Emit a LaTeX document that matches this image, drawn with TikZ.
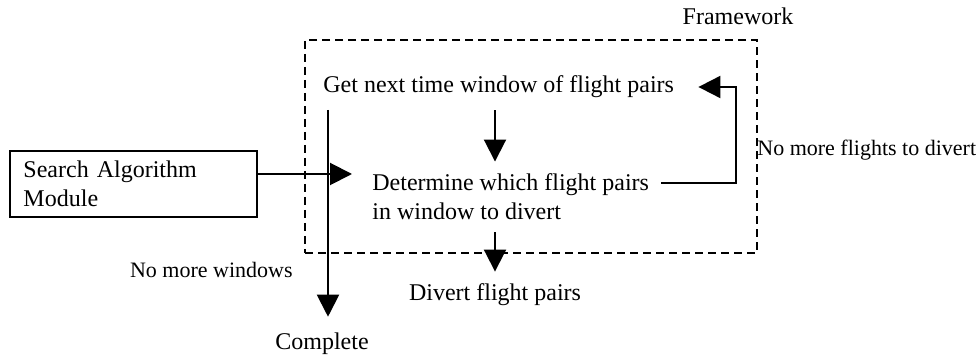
\documentclass[tikz,border=0pt]{standalone}
\usepackage{fontspec}
\setmainfont{Liberation Serif}
\usetikzlibrary{arrows.meta}

\tikzset{
  txt/.style={inner sep=6pt, align=left, font=\fontsize{12}{14.5}\selectfont},
  lbl/.style={inner sep=0pt, font=\fontsize{11}{13}\selectfont},
  arr/.style={line width=1pt, -{Triangle[length=11pt,width=11pt]}},
  ln/.style={line width=1pt}
}

\begin{document}
\begin{tikzpicture}[x=0.5pt, y=-0.5pt]
  \useasboundingbox (0,0) rectangle (976,363);

  % Nodes
  \node [draw, dashed, line width=1pt, dash pattern=on 4pt off 2.5pt,
         minimum width=226pt, minimum height=106.5pt] (frame) at (531,146.5) {};
  \node [txt, inner sep=0pt] (fwlabel) at (738,16) {Framework};
  \node [draw, ln, txt, text width=110pt, inner xsep=6.75pt, inner ysep=0pt,
         minimum height=33pt] (search) at (133.5,184) {Search Algorithm\\Module};
  \node [txt, anchor=west] (getnext) at (311,87) {Get next time window of flight pairs};
  \node [txt, anchor=west] (determine) at (360,197) {Determine which flight pairs\\in window to divert};
  \node [txt] (divert) at (495,295) {Divert flight pairs};
  \node [txt] (complete) at (322,344) {Complete};
  \node [lbl, anchor=east] (nowin) at (293,270) {No more windows};
  \node [lbl, anchor=west] (noflights) at (757,150) {No more flights to divert};
  \coordinate (entry) at (352,174);
  \coordinate (winx) at (328,110);
  \coordinate (loopx) at (736,135);

  % Edges
  \draw[arr] (search.east |- entry) -- (entry);
  \draw[arr] (getnext.south -| divert) -- (determine.north -| divert);
  \draw[arr] (determine.south -| divert) -- (divert);
  \draw[arr] (winx) -- ([yshift=2pt]winx |- complete.north);
  \draw[arr] ([yshift=7pt]determine.east) -- ([yshift=7pt]determine.east -| loopx)
             |- ([xshift=6pt]getnext.east);
\end{tikzpicture}
\end{document}
